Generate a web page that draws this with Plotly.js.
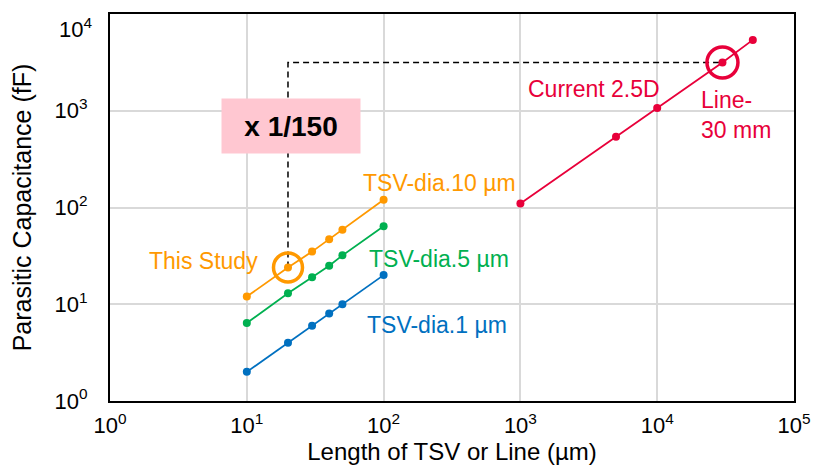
<!DOCTYPE html>
<html>
<head>
<meta charset="utf-8">
<script src="https://cdn.plot.ly/plotly-3.0.1.min.js"></script>
<style>
  html, body { margin: 0; padding: 0; background: #fff; }
  #chart { width: 815px; height: 469px; }
</style>
</head>
<body>
<div id="chart"></div>
<script>
// ---- data ----
const tsvLength = [10, 20, 30, 40, 50, 100];          // µm
const tsvDia10 = [12, 24, 35, 47, 59, 120];           // fF
const tsvDia5  = [6.4, 13, 19, 25, 32, 64];           // fF
const tsvDia1  = [2, 4, 6, 8, 10, 20];                // fF
const lineLength = [1000, 5000, 10000, 30000, 50000]; // µm
const line25D    = [110, 540, 1070, 3150, 5400];      // fF

const tickVals = [1, 10, 100, 1000, 10000, 100000];
const tickText = ['10<sup>0</sup>', '10<sup>1</sup>', '10<sup>2</sup>', '10<sup>3</sup>', '10<sup>4</sup>', '10<sup>5</sup>'];

// highlighted points
const studyIdx = 1;   // TSV-dia.10 µm, 20 µm
const line30Idx = 3;  // Line 30 mm

const cOrange = '#FF9900', cGreen = '#00B050', cBlue = '#0070C0', cRed = '#E8003A';
const FONT = 'Liberation Sans, Arial, sans-serif';

function series(x, y, color) {
  return {
    x: x, y: y, type: 'scatter', mode: 'lines+markers',
    line: { color: color, width: 1.8 },
    marker: { color: color, size: 8 },
    hoverinfo: 'skip', showlegend: false
  };
}

const traces = [
  // dashed guide from "This Study" up to the 30 mm line point
  {
    x: [tsvLength[studyIdx], tsvLength[studyIdx], lineLength[line30Idx]],
    y: [tsvDia10[studyIdx], line25D[line30Idx], line25D[line30Idx]],
    type: 'scatter', mode: 'lines',
    line: { color: '#000', width: 1.5, dash: '6px,4px' },
    hoverinfo: 'skip', showlegend: false
  },
  series(tsvLength, tsvDia10, cOrange),
  series(tsvLength, tsvDia5, cGreen),
  series(tsvLength, tsvDia1, cBlue),
  series(lineLength, line25D, cRed),
  // highlight circles
  {
    x: [tsvLength[studyIdx]], y: [tsvDia10[studyIdx]], type: 'scatter', mode: 'markers',
    marker: { symbol: 'circle-open', size: 29, color: cOrange, line: { width: 3.5, color: cOrange } },
    hoverinfo: 'skip', showlegend: false
  },
  {
    x: [lineLength[line30Idx]], y: [line25D[line30Idx]], type: 'scatter', mode: 'markers',
    marker: { symbol: 'circle-open', size: 31, color: cRed, line: { width: 3.5, color: cRed } },
    hoverinfo: 'skip', showlegend: false
  }
];

function ann(text, x, y, color, extra) {
  return Object.assign({
    text: text, x: x, y: y, xref: 'paper', yref: 'paper',
    xanchor: 'center', yanchor: 'middle',
    showarrow: false, font: { family: FONT, size: 23, color: color }
  }, extra || {});
}

const layout = {
  width: 815, height: 469,
  margin: { l: 110, r: 21, t: 14, b: 68 },
  paper_bgcolor: '#fff', plot_bgcolor: '#fff',
  font: { family: FONT, color: '#000' },
  xaxis: {
    type: 'log', range: [-0.0001, 5.0001],
    tickvals: tickVals, ticktext: tickText,
    tickfont: { family: FONT, size: 22, color: '#000' },
    ticks: 'outside', ticklen: 4, tickcolor: 'rgba(0,0,0,0)',
    ticklabeloverflow: 'allow',
    showgrid: true, gridcolor: '#D9D9D9', gridwidth: 2,
    showline: true, linecolor: '#000', linewidth: 2, mirror: true,
    zeroline: false,
    title: { text: 'Length of TSV or Line (µm)', font: { family: FONT, size: 24, color: '#000' }, standoff: 6 }
  },
  yaxis: {
    type: 'log', range: [-0.0001, 4.0001],
    tickvals: tickVals.slice(0, 4), ticktext: tickText.slice(0, 4),
    tickfont: { family: FONT, size: 22, color: '#000' },
    ticks: 'outside', ticklen: 16, tickcolor: 'rgba(0,0,0,0)',
    showgrid: true, gridcolor: '#D9D9D9', gridwidth: 2,
    showline: true, linecolor: '#000', linewidth: 2, mirror: true,
    zeroline: false,
    title: { text: 'Parasitic Capacitance (fF)', font: { family: FONT, size: 25, color: '#000' }, standoff: 16 }
  },
  annotations: [
    // top y tick label (10^4), nudged inside the page as in the reference
    ann(tickText[4], -0.024, 1, '#000', {
      xanchor: 'right', yanchor: 'top', yshift: 2,
      font: { family: FONT, size: 22, color: '#000' }
    }),
    ann('TSV-dia.10 µm', 0.481, 0.563, cOrange),
    ann('This Study', 0.137, 0.362, cOrange),
    ann('TSV-dia.5 µm', 0.481, 0.367, cGreen),
    ann('TSV-dia.1 µm', 0.478, 0.196, cBlue),
    ann('Current 2.5D', 0.708, 0.806, cRed),
    ann('Line-<br>30 mm', 0.861, 0.738, cRed, { xanchor: 'left', align: 'left' }),
    ann('<b>x 1/150</b>', 0.265, 0.711, '#000', {
      font: { family: FONT, size: 28, color: '#000' },
      bgcolor: '#FFC7D1', width: 138, height: 54, borderpad: 0
    })
  ]
};

Plotly.newPlot('chart', traces, layout, { staticPlot: true, displayModeBar: false });
</script>
</body>
</html>
